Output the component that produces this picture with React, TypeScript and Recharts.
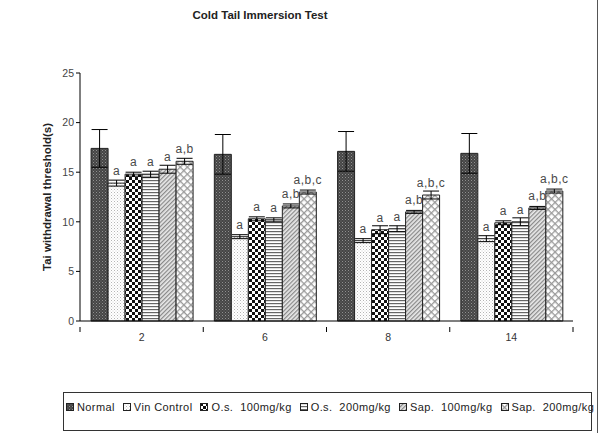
import React from 'react';
import { BarChart, Bar, XAxis, YAxis, ErrorBar, LabelList } from 'recharts';

const days = ['2', '6', '8', '14'];

const normal = [17.4, 16.8, 17.1, 16.9];
const normalErr = [1.9, 2.0, 2.0, 2.0];
const vinControl = [13.9, 8.5, 8.1, 8.3];
const vinControlErr = [0.3, 0.2, 0.2, 0.3];
const os100 = [14.8, 10.3, 9.2, 9.9];
const os100Err = [0.2, 0.2, 0.4, 0.2];
const os200 = [14.8, 10.2, 9.3, 10.0];
const os200Err = [0.3, 0.2, 0.3, 0.4];
const sap100 = [15.3, 11.6, 11.0, 11.4];
const sap100Err = [0.4, 0.2, 0.15, 0.15];
const sap200 = [16.1, 13.0, 12.7, 13.1];
const sap200Err = [0.3, 0.2, 0.4, 0.2];

const vinControlSig = ['a', 'a', 'a', 'a'];
const os100Sig = ['a', 'a', 'a', 'a'];
const os200Sig = ['a', 'a', 'a', 'a'];
const sap100Sig = ['a', 'a,b', 'a,b', 'a,b'];
const sap200Sig = ['a,b', 'a,b,c', 'a,b,c', 'a,b,c'];

const yTicks = [0, 5, 10, 15, 20, 25];

const series = [
  { key: 'normal', name: 'Normal', fill: 'url(#pNormal)' },
  { key: 'vin', name: 'Vin Control', fill: 'url(#pVin)' },
  { key: 'os100', name: 'O.s.  100mg/kg', fill: 'url(#pOs100)' },
  { key: 'os200', name: 'O.s.  200mg/kg', fill: 'url(#pOs200)' },
  { key: 'sap100', name: 'Sap.  100mg/kg', fill: 'url(#pSap100)' },
  { key: 'sap200', name: 'Sap.  200mg/kg', fill: 'url(#pSap200)' },
];

const rows = days.map((d, i) => ({
  day: d,
  normal: normal[i], normalErr: normalErr[i],
  vin: vinControl[i], vinErr: vinControlErr[i], vinSig: vinControlSig[i],
  os100: os100[i], os100Err: os100Err[i], os100Sig: os100Sig[i],
  os200: os200[i], os200Err: os200Err[i], os200Sig: os200Sig[i],
  sap100: sap100[i], sap100Err: sap100Err[i], sap100Sig: sap100Sig[i],
  sap200: sap200[i], sap200Err: sap200Err[i], sap200Sig: sap200Sig[i],
}));

const font = '"Liberation Sans", Arial, sans-serif';

const Patterns = () => (
  <defs>
    <pattern id="pNormal" width="3" height="3" patternUnits="userSpaceOnUse">
      <rect width="3" height="3" fill="#454545" />
      <rect x="0" y="0" width="1" height="1" fill="#909090" />
      <rect x="1.5" y="1.5" width="1" height="1" fill="#767676" />
    </pattern>
    <pattern id="pVin" width="3" height="3" patternUnits="userSpaceOnUse">
      <rect width="3" height="3" fill="#fff" />
      <rect x="0" y="0" width="1" height="1" fill="#b5b5b5" />
      <rect x="1.5" y="1.5" width="1" height="1" fill="#d0d0d0" />
    </pattern>
    <pattern id="pOs100" width="6" height="6" patternUnits="userSpaceOnUse">
      <rect width="6" height="6" fill="#fff" />
      <rect x="0" y="0" width="3" height="3" fill="#111" />
      <rect x="3" y="3" width="3" height="3" fill="#111" />
    </pattern>
    <pattern id="pOs200" width="4" height="3" patternUnits="userSpaceOnUse">
      <rect width="4" height="3" fill="#fff" />
      <rect x="0" y="0" width="4" height="1.2" fill="#666" />
    </pattern>
    <pattern id="pSap100" width="3" height="3" patternUnits="userSpaceOnUse" patternTransform="rotate(45)">
      <rect width="3" height="3" fill="#e8e8e8" />
      <rect x="0" y="0" width="1.2" height="3" fill="#888" />
    </pattern>
    <pattern id="pSap200" width="5" height="5" patternUnits="userSpaceOnUse" patternTransform="rotate(45)">
      <rect width="5" height="5" fill="#fff" />
      <rect x="0" y="0" width="1.3" height="5" fill="#999" />
      <rect x="0" y="0" width="5" height="1.3" fill="#999" />
    </pattern>
  </defs>
);

const SigLabel = (props: any) => {
  const { x, y, width, value } = props;
  if (!value) return null;
  return (
    <text x={x + width / 2} y={y - 8} textAnchor="middle" fontSize={12} letterSpacing={0.5} fontFamily={font} fill="#4a4a4a">
      {value}
    </text>
  );
};

const DayTick = (props: any) => {
  const { x, y, payload, index, width } = props;
  const bw = width / days.length;
  return (
    <g>
      <line x1={x - bw / 2} x2={x - bw / 2} y1={y - 2} y2={y + 3} stroke="#000" />
      {index === days.length - 1 && (
        <line x1={x + bw / 2} x2={x + bw / 2} y1={y - 2} y2={y + 3} stroke="#000" />
      )}
      <text x={x} y={y + 12} textAnchor="middle" fontSize={10.5} fontFamily={font} fill="#333">
        {payload.value}
      </text>
    </g>
  );
};

const YLabel = (props: any) => {
  const { viewBox } = props;
  const cx = viewBox.x + 7;
  const cy = viewBox.y + viewBox.height / 2;
  return (
    <text x={cx} y={cy} transform={`rotate(-90 ${cx} ${cy})`} textAnchor="middle" dominantBaseline="central"
      fontSize={11.5} fontWeight="bold" fontFamily={font} fill="#222">
      Tai withdrawal threshold(s)
    </text>
  );
};

const App = () => {
  return (
    <div style={{ position: 'absolute', left: 0, top: 0, width: 600, height: 433, background: '#fff', fontFamily: font }}>
      <div style={{ position: 'absolute', right: 2, top: 0, width: 1, height: 433, background: '#555' }} />
      <div style={{ position: 'absolute', left: 160, width: 200, top: 9, textAlign: 'center', fontSize: 11.5, fontWeight: 'bold', color: '#222' }}>
        Cold Tail Immersion Test
      </div>
      <BarChart width={600} height={433} data={rows} margin={{ top: 73, right: 27, left: 40, bottom: 82 }}
        barCategoryGap="9%" barGap={0}>
        <Patterns />
        <XAxis dataKey="day" tickLine={false} axisLine={{ stroke: '#000' }} tick={<DayTick />} interval={0} />
        <YAxis domain={[0, 25]} ticks={yTicks} width={40} tickSize={4} axisLine={{ stroke: '#000' }}
          tickLine={{ stroke: '#000' }} tick={{ fontSize: 10.5, fill: '#444', fontFamily: font }}
          label={<YLabel />} />
        {series.map((s) => (
          <Bar key={s.key} dataKey={s.key} name={s.name} fill={s.fill} stroke="#222" strokeWidth={1} isAnimationActive={false}>
            <ErrorBar dataKey={`${s.key}Err`} width={8} stroke="#000" strokeWidth={1} />
            {s.key !== 'normal' && <LabelList dataKey={`${s.key}Sig`} content={<SigLabel />} />}
          </Bar>
        ))}
      </BarChart>
      <div style={{ position: 'absolute', left: 63, top: 392, width: 529, height: 39, border: '1px solid #333', display: 'flex', alignItems: 'flex-start', paddingTop: 8, paddingLeft: 2, boxSizing: 'border-box' }}>
        {series.map((s) => (
          <div key={s.key} style={{ display: 'flex', alignItems: 'center', marginRight: 8, fontSize: 11, letterSpacing: 0.4, color: '#222', whiteSpace: 'pre' }}>
            <svg width={8} height={8} style={{ marginRight: 3 }}>
              <rect x={0.5} y={0.5} width={7} height={7} fill={s.fill} stroke="#222" />
            </svg>
            {s.name}
          </div>
        ))}
      </div>
    </div>
  );
};

export default App;
